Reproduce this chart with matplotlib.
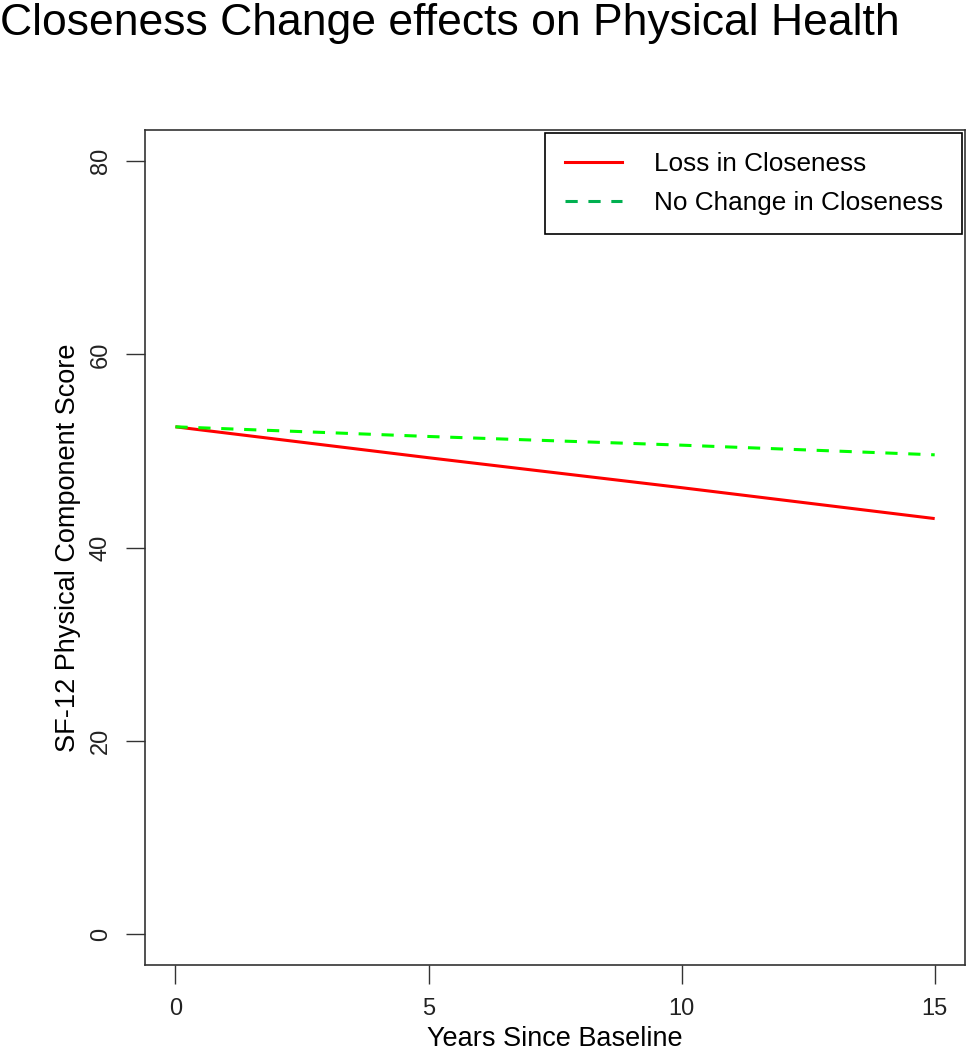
import matplotlib
matplotlib.use("Agg")
import matplotlib.pyplot as plt
from matplotlib.lines import Line2D

plt.rcParams['font.family'] = ['Liberation Sans', 'DejaVu Sans']

# values
years = [0, 5, 10, 15]
loss_closeness = [52.5, 49.3, 46.2, 43.0]
no_change_closeness = [52.5, 51.5, 50.6, 49.6]
x_ticks = [0, 5, 10, 15]
y_ticks = [0, 20, 40, 60, 80]

fig = plt.figure(figsize=(9.67, 10.5), dpi=100)
ax = fig.add_axes([0.150, 0.081, 0.848, 0.795])

ax.plot(years, loss_closeness, color='#ff0000', lw=2.2, solid_capstyle='butt')
ax.plot(years, no_change_closeness, color='#00ff00', lw=2.2, ls=(0, (4, 3.5)))

ax.set_xlim(-0.6, 15.6)
ax.set_ylim(-3.2, 83.2)
ax.set_xticks(x_ticks)
ax.set_yticks(y_ticks)
ax.set_xticklabels([str(t) for t in x_ticks], fontsize=17, color='#222222')
ax.set_yticklabels([str(t) for t in y_ticks], fontsize=17, color='#222222',
                   rotation=90, va='center')
ax.tick_params(axis='both', length=14, width=1, color='#333333', pad=10)

for sp in ax.spines.values():
    sp.set_linewidth(1.2)
    sp.set_color('#333333')

ax.set_xlabel('Years Since Baseline', fontsize=19.5, labelpad=4)
ax.set_ylabel('SF-12 Physical Component Score', fontsize=19.5, labelpad=6)

fig.text(0.0, 1 - 35 / 1050, 'Closeness Change effects on Physical Health',
         fontsize=32, ha='left', va='baseline')

handles = [
    Line2D([0], [0], color='#ff0000', lw=2.2),
    Line2D([0], [0], color='#00b050', lw=2.2, ls=(0, (4, 3.5))),
]
leg = ax.legend(handles, ['Loss in Closeness', 'No Change in Closeness'],
                loc='upper right', borderaxespad=0.1, fontsize=18.8,
                fancybox=False, framealpha=1, edgecolor='black',
                handlelength=2.2, handletextpad=1.2, borderpad=0.75,
                labelspacing=0.55)
leg.get_frame().set_linewidth(1.2)

fig.savefig('out.png', dpi=100)
